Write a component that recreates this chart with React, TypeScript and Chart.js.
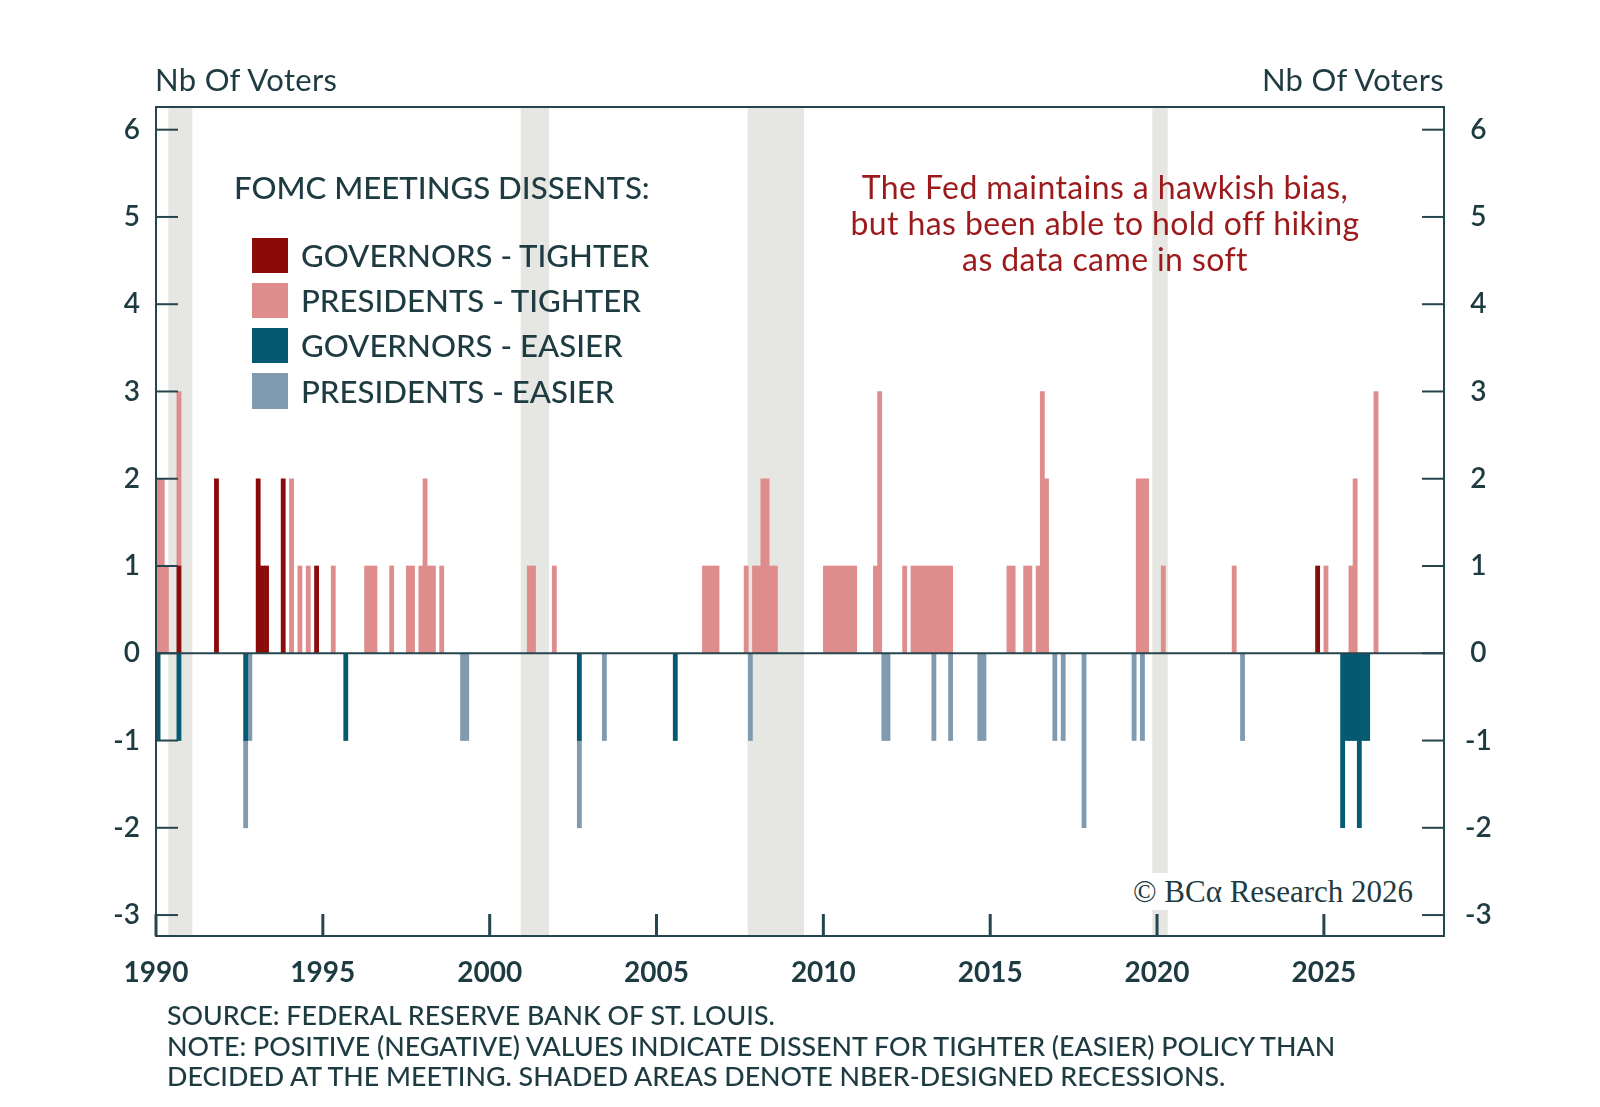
import React, { useEffect, useRef } from 'react';
import { Chart, registerables } from 'chart.js';

Chart.register(...registerables);

// Dissent spans: [start year, end year, number of voters].
// One FOMC meeting takes roughly an eighth of a year on the time axis.
const governorsTighter: [number, number, number][] = [
  [1990.625, 1990.75, 1],
  [1991.75, 1991.875, 2],
  [1993.0, 1993.125, 2],
  [1993.125, 1993.375, 1],
  [1993.75, 1993.875, 2],
  [1994.75, 1994.875, 1],
  [2024.75, 2024.875, 1],
];

const presidentsTighter: [number, number, number][] = [
  [1990.0, 1990.25, 2],
  [1990.25, 1990.375, 1],
  [1990.625, 1990.75, 2],
  [1994.0, 1994.125, 2],
  [1994.25, 1994.375, 1],
  [1994.5, 1994.625, 1],
  [1995.25, 1995.375, 1],
  [1996.25, 1996.625, 1],
  [1997.0, 1997.125, 1],
  [1997.5, 1997.75, 1],
  [1997.875, 1998.0, 1],
  [1998.0, 1998.125, 2],
  [1998.125, 1998.375, 1],
  [1998.5, 1998.625, 1],
  [2001.125, 2001.375, 1],
  [2001.875, 2002.0, 1],
  [2006.375, 2006.875, 1],
  [2007.625, 2007.75, 1],
  [2007.875, 2008.125, 1],
  [2008.125, 2008.375, 2],
  [2008.375, 2008.625, 1],
  [2010.0, 2011.0, 1],
  [2011.5, 2011.625, 1],
  [2011.625, 2011.75, 3],
  [2012.375, 2012.5, 1],
  [2012.625, 2013.875, 1],
  [2015.5, 2015.75, 1],
  [2016.0, 2016.25, 1],
  [2016.375, 2016.5, 1],
  [2016.5, 2016.625, 3],
  [2016.625, 2016.75, 2],
  [2019.375, 2019.75, 2],
  [2020.125, 2020.25, 1],
  [2022.25, 2022.375, 1],
  [2025.0, 2025.125, 1],
  [2025.75, 2025.875, 1],
  [2025.875, 2026.0, 2],
  [2026.5, 2026.625, 3],
];

const governorsEasier: [number, number, number][] = [
  [1990.0, 1990.125, -1],
  [1990.625, 1990.75, -1],
  [1992.625, 1992.75, -1],
  [1995.625, 1995.75, -1],
  [2002.625, 2002.75, -1],
  [2005.5, 2005.625, -1],
  [2025.5, 2025.625, -2],
  [2025.625, 2026.0, -1],
  [2026.0, 2026.125, -2],
  [2026.125, 2026.375, -1],
];

const presidentsEasier: [number, number, number][] = [
  [1992.625, 1992.875, -1],
  [1999.125, 1999.375, -1],
  [2002.625, 2002.75, -1],
  [2003.375, 2003.5, -1],
  [2007.75, 2007.875, -1],
  [2011.75, 2012.0, -1],
  [2013.25, 2013.375, -1],
  [2013.75, 2013.875, -1],
  [2014.625, 2014.875, -1],
  [2016.875, 2017.0, -1],
  [2017.125, 2017.25, -1],
  [2017.75, 2017.875, -2],
  [2019.25, 2019.375, -1],
  [2019.5, 2019.625, -1],
  [2022.5, 2022.625, -1],
];

// NBER recessions as placed on the chart
const recessions: [number, number][] = [
  [1990.37, 1991.09],
  [2000.93, 2001.78],
  [2007.73, 2009.42],
  [2019.86, 2020.32],
];

const xTickYears = [1990, 1995, 2000, 2005, 2010, 2015, 2020, 2025];
const yTickValues = [-3, -2, -1, 0, 1, 2, 3, 4, 5, 6];

const seriesLabels = ['GOVERNORS - TIGHTER', 'PRESIDENTS - TIGHTER', 'GOVERNORS - EASIER', 'PRESIDENTS - EASIER'];
const seriesColors = ['#8B0A0A', '#DE8C8C', '#055A72', '#809BB0'];

const noteLines = [
  'SOURCE: FEDERAL RESERVE BANK OF ST. LOUIS.',
  'NOTE: POSITIVE (NEGATIVE) VALUES INDICATE DISSENT FOR TIGHTER (EASIER) POLICY THAN',
  'DECIDED AT THE MEETING. SHADED AREAS DENOTE NBER-DESIGNED RECESSIONS.',
];
const calloutLines = [
  'The Fed maintains a hawkish bias,',
  'but has been able to hold off hiking',
  'as data came in soft',
];

const AXIS = '#25464D';
const TEXT = '#1D3B41';
const CALLOUT = '#9C1A1C';
const BAND = '#E6E6E2';
const FONT = 'Lato, "Open Sans", sans-serif';

const MEETING = 0.125;

const toBars = (spans: [number, number, number][]) =>
  spans.flatMap(([start, end, v]) => {
    const out: { x: number; y: number }[] = [];
    for (let t = start; t < end - 1e-9; t += MEETING) out.push({ x: t + MEETING / 2, y: v });
    return out;
  });

const framePlugin = {
  id: 'frame',
  beforeDatasetsDraw(chart: any) {
    const { ctx, chartArea: a, scales } = chart;
    ctx.save();
    ctx.fillStyle = BAND;
    recessions.forEach(([s, e]) => {
      const x0 = scales.x.getPixelForValue(s);
      const x1 = scales.x.getPixelForValue(e);
      ctx.fillRect(x0, a.top, x1 - x0, a.bottom - a.top);
    });
    ctx.restore();
  },
  afterDatasetsDraw(chart: any) {
    const { ctx, chartArea: a, scales } = chart;
    ctx.save();
    ctx.strokeStyle = AXIS;
    const line = (x0: number, y0: number, x1: number, y1: number, w: number) => {
      ctx.lineWidth = w;
      ctx.beginPath();
      ctx.moveTo(x0, y0);
      ctx.lineTo(x1, y1);
      ctx.stroke();
    };
    const y0 = scales.y.getPixelForValue(0);
    line(a.left, y0, a.right, y0, 2);
    scales.y.ticks.forEach((t: any) => {
      const py = scales.y.getPixelForValue(t.value);
      line(a.left, py, a.left + 22, py, 2);
      line(a.right - 22, py, a.right, py, 2);
    });
    scales.x.ticks.forEach((t: any) => {
      const px = scales.x.getPixelForValue(t.value);
      line(px, a.bottom, px, a.bottom - 22, 3);
    });
    ctx.lineWidth = 2;
    ctx.strokeRect(a.left, a.top, a.right - a.left, a.bottom - a.top);
    ctx.restore();
  },
};

const yAxis = (position: 'left' | 'right') => ({
  type: 'linear' as const,
  position,
  min: -3.24,
  max: 6.26,
  stacked: true,
  grid: { display: false, drawTicks: false },
  border: { display: false },
  afterBuildTicks: (s: any) => {
    s.ticks = yTickValues.map((v) => ({ value: v }));
  },
  afterFit: (s: any) => {
    s.width = 156;
  },
  ticks: {
    color: TEXT,
    font: { family: FONT, size: 28, weight: 600 },
    padding: position === 'left' ? 16 : 21,
    crossAlign: position === 'left' ? ('near' as const) : ('center' as const),
    callback: (v: any) => String(v),
  },
});

export default function App() {
  const chartRef = useRef<HTMLCanvasElement>(null);
  const chartInstance = useRef<Chart | null>(null);

  useEffect(() => {
    if (!chartRef.current) return;
    if (chartInstance.current) chartInstance.current.destroy();
    const ctx = chartRef.current.getContext('2d');
    if (!ctx) return;

    const series = [governorsTighter, presidentsTighter, governorsEasier, presidentsEasier];

    chartInstance.current = new Chart(ctx, {
      type: 'bar',
      data: {
        datasets: series.map((spans, i) => ({
          label: seriesLabels[i],
          data: toBars(spans),
          backgroundColor: seriesColors[i],
          borderWidth: 0,
          barPercentage: 1,
          categoryPercentage: 1,
          inflateAmount: 'auto',
        })) as any,
      },
      options: {
        responsive: false,
        animation: false,
        layout: { padding: { top: 107, left: 0, right: 0, bottom: 0 } },
        plugins: {
          legend: { display: false },
          tooltip: { enabled: false },
        },
        scales: {
          x: {
            type: 'linear',
            min: 1990,
            max: 2028.6,
            offset: false,
            stacked: true,
            grid: { display: false, drawTicks: false, offset: false },
            border: { display: false },
            afterBuildTicks: (s: any) => {
              s.ticks = xTickYears.map((v) => ({ value: v }));
            },
            afterFit: (s: any) => {
              s.height = 171;
            },
            ticks: {
              color: TEXT,
              font: { family: FONT, size: 28, weight: 700 },
              padding: 20,
              maxRotation: 0,
              autoSkip: false,
              callback: (v: any) => String(v),
            },
          },
          y: yAxis('left'),
          y2: yAxis('right'),
        } as any,
      },
      plugins: [framePlugin],
    });

    return () => {
      if (chartInstance.current) {
        chartInstance.current.destroy();
        chartInstance.current = null;
      }
    };
  }, []);

  const abs = (left: number, top: number, size: number, extra: React.CSSProperties = {}): React.CSSProperties => ({
    position: 'absolute',
    left,
    top,
    fontSize: size,
    lineHeight: 1.2,
    whiteSpace: 'nowrap',
    ...extra,
  });

  return (
    <div
      style={{
        position: 'absolute',
        left: 0,
        top: 0,
        width: 1600,
        height: 1107,
        background: '#fff',
        fontFamily: FONT,
        color: TEXT,
        overflow: 'hidden',
      }}
    >
      <canvas ref={chartRef} width={1600} height={1107} style={{ position: 'absolute', left: 0, top: 0 }}></canvas>

      <div style={abs(155, 61, 31, { letterSpacing: 0.3 })}>Nb Of Voters</div>
      <div style={abs(1444, 61, 31, { letterSpacing: 0.3, transform: 'translateX(-100%)' })}>Nb Of Voters</div>

      <div style={abs(234, 169, 31.2, { fontWeight: 500 })}>FOMC MEETINGS DISSENTS:</div>
      {seriesLabels.map((label, i) => (
        <div key={label}>
          <div
            style={{
              position: 'absolute',
              left: 252,
              top: 237.5 + i * 45.2,
              width: 35.5,
              height: 35.5,
              background: seriesColors[i],
            }}
          />
          <div style={abs(301, 237 + i * 45.2, 31.2, { fontWeight: 500 })}>{label}</div>
        </div>
      ))}

      {calloutLines.map((t, i) => (
        <div
          key={t}
          style={abs(1105, 168 + i * 36.2, 32, { color: CALLOUT, letterSpacing: 0.4, transform: 'translateX(-50%)' })}
        >
          {t}
        </div>
      ))}

      <div
        style={abs(1273, 873, 31, {
          fontFamily: '"Liberation Serif", "DejaVu Serif", serif',
          transform: 'translateX(-50%)',
          background: '#fff',
          padding: '0 4px',
        })}
      >
        © BCα Research 2026
      </div>

      {noteLines.map((t, i) => (
        <div key={t} style={abs(167, 999 + i * 30.6, 26.8, { fontWeight: 500 })}>
          {t}
        </div>
      ))}
    </div>
  );
}
